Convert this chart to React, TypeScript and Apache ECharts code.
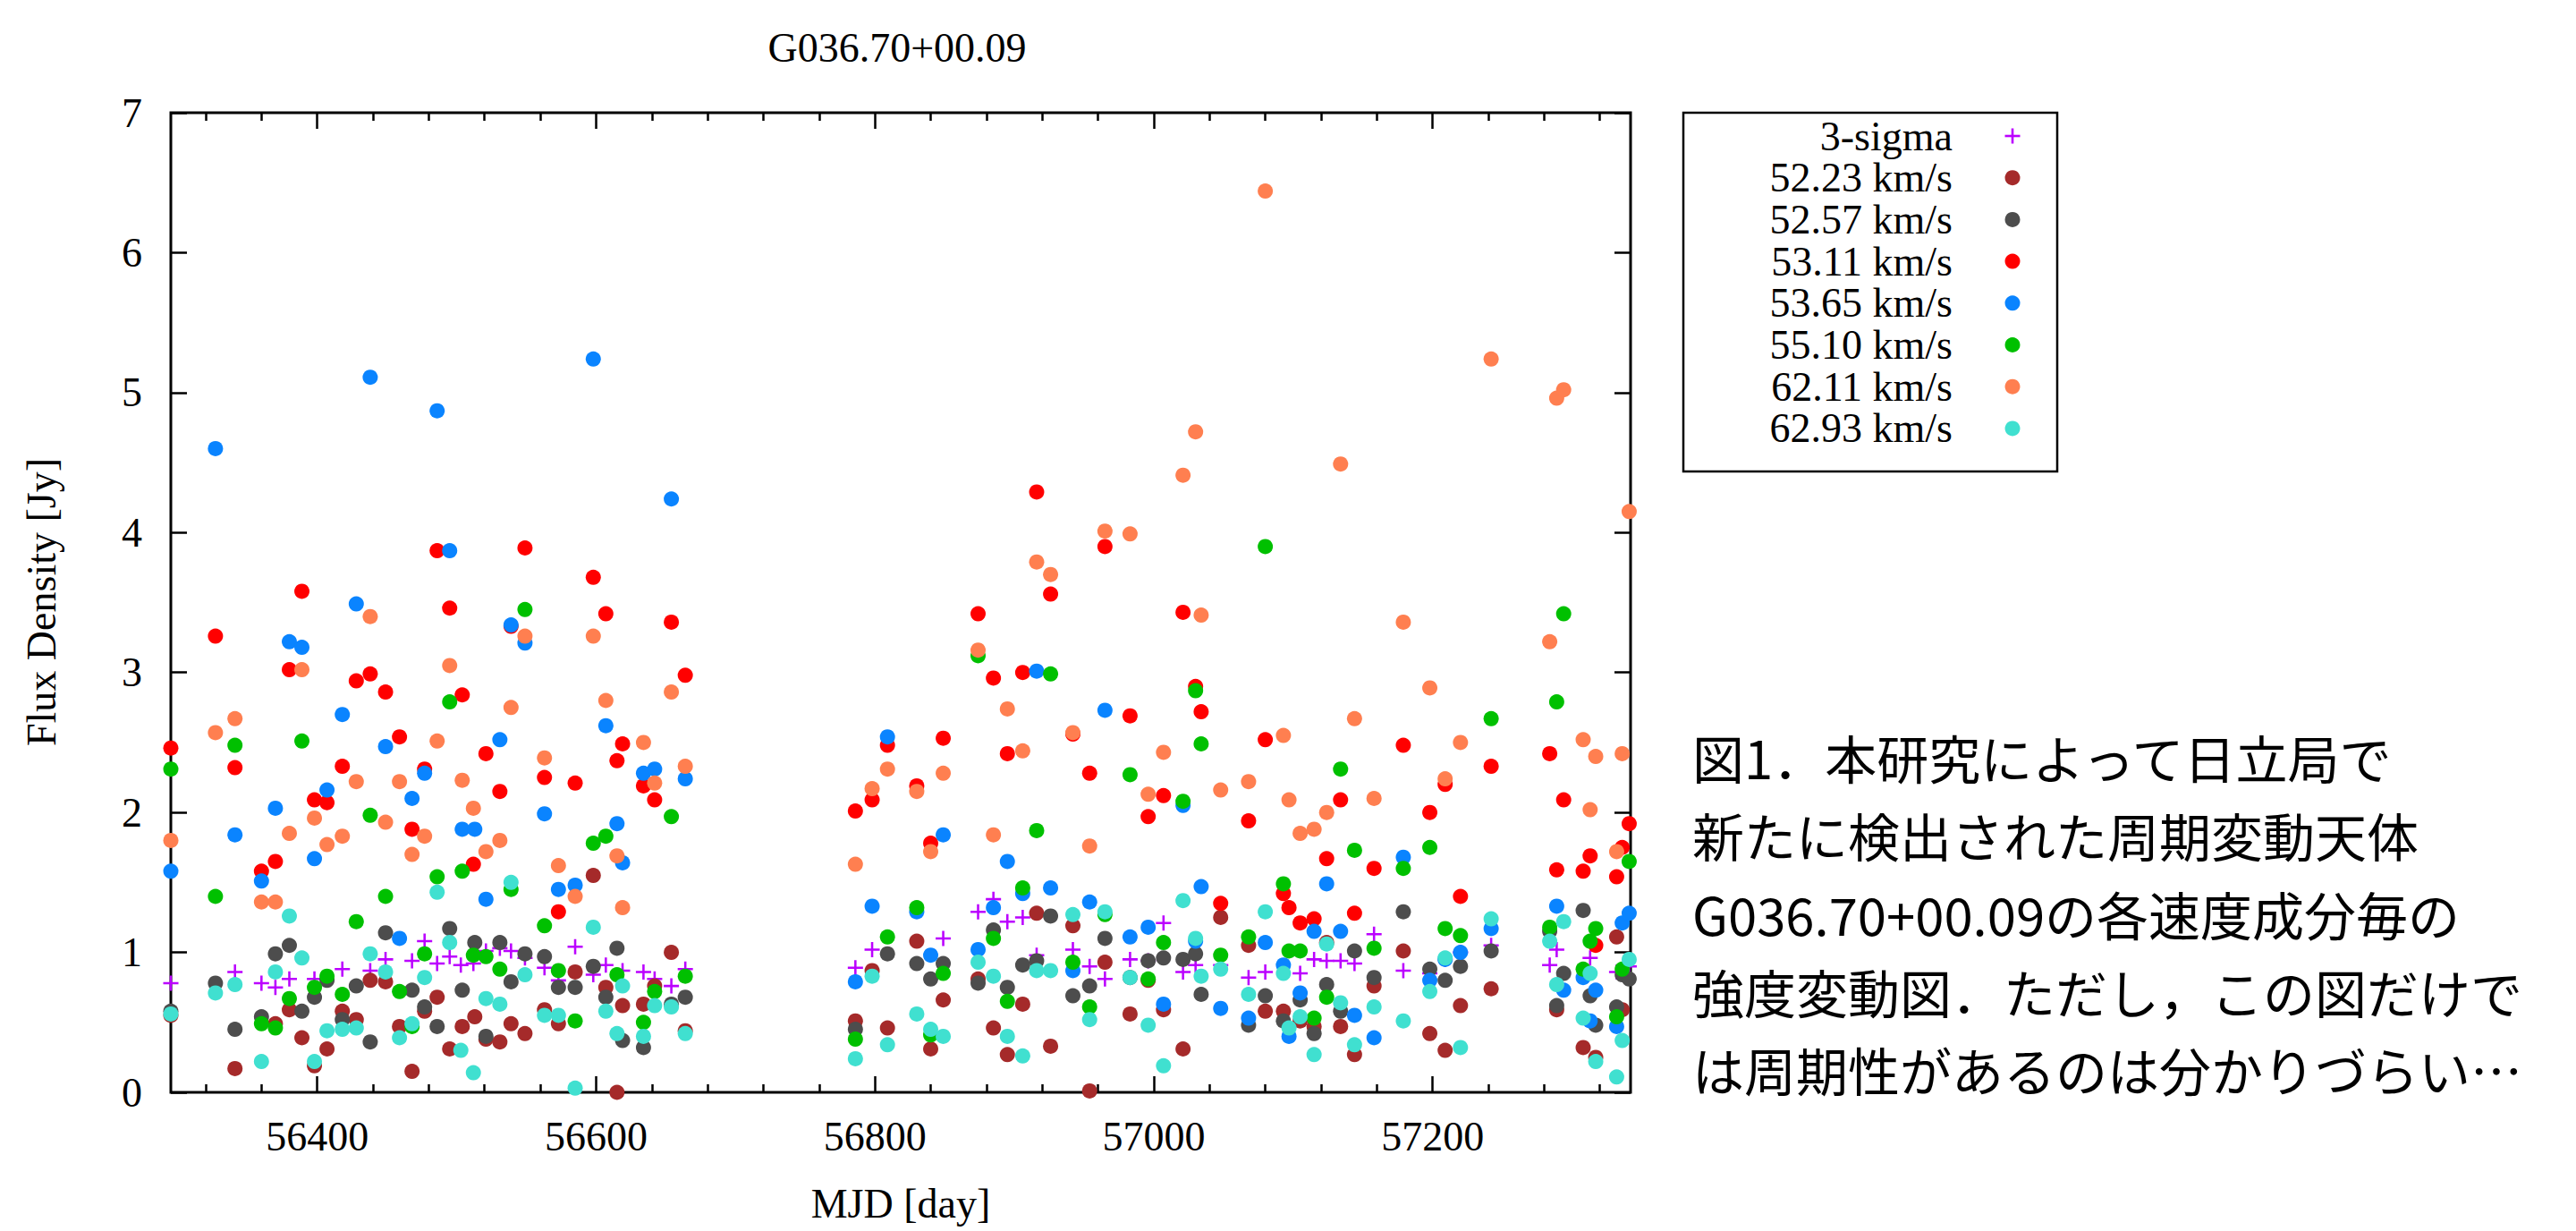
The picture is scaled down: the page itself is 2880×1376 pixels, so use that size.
import React, { useEffect, useRef } from "react";
import * as echarts from "echarts";

// ---------------- data (MJD day, flux density Jy) ----------------
const TITLE = "G036.70+00.09";
const X_NAME = "MJD [day]";
const Y_NAME = "Flux Density [Jy]";
const X_MAJOR = [56400, 56600, 56800, 57000, 57200];
const X_MINOR = [56320, 56360, 56440, 56480, 56520, 56560, 56640, 56680, 56720, 56760, 56840, 56880, 56920, 56960, 57040, 57080, 57120, 57160, 57240, 57280, 57320];
const Y_TICKS = [0, 1, 2, 3, 4, 5, 6, 7];
const SERIES_NAMES = ["3-sigma", "52.23 km/s", "52.57 km/s", "53.11 km/s", "53.65 km/s", "55.10 km/s", "62.11 km/s", "62.93 km/s"];
const CAPTION = [
  "図1．本研究によって日立局で",
  "新たに検出された周期変動天体",
  "G036.70+00.09の各速度成分毎の",
  "強度変動図．ただし，この図だけで",
  "は周期性があるのは分かりづらい…",
];

const sigma3: [number, number][] = [
  [56295, 0.78], [56341, 0.86], [56360, 0.78], [56370, 0.75], [56380, 0.81], [56398, 0.81], [56418, 0.88], [56438, 0.87],
  [56449, 0.95], [56468, 0.94], [56477, 1.08], [56486, 0.92], [56495, 0.97], [56503, 0.91], [56512, 0.92], [56521, 1.01],
  [56531, 1.03], [56539, 1.01], [56549, 0.96], [56563, 0.89], [56573, 0.8], [56585, 1.04], [56598, 0.84], [56607, 0.91],
  [56619, 0.87], [56634, 0.86], [56642, 0.81], [56654, 0.76], [56664, 0.88],
  [56786, 0.89], [56798, 1.02], [56849, 1.1], [56874, 1.29], [56885, 1.38], [56895, 1.22], [56906, 1.25], [56916, 0.98],
  [56942, 1.02], [56954, 0.9], [56965, 0.81], [56983, 0.95], [56996, 0.94], [57007, 1.21], [57021, 0.86], [57030, 0.91],
  [57048, 0.91], [57068, 0.82], [57080, 0.86], [57105, 0.85], [57115, 0.95], [57124, 0.94], [57134, 0.94], [57144, 0.92],
  [57158, 1.13], [57179, 0.87], [57198, 0.85], [57209, 0.95], [57220, 1.0], [57242, 1.05], [57284, 0.91], [57289, 1.02],
  [57313, 0.96], [57332, 0.86], [57341, 0.9],
];

const v5223: [number, number][] = [
  [56295, 0.55], [56341, 0.17], [56370, 0.49], [56380, 0.59], [56389, 0.39], [56398, 0.19], [56407, 0.31], [56418, 0.58],
  [56428, 0.52], [56438, 0.8], [56449, 0.79], [56459, 0.47], [56468, 0.15], [56477, 0.58], [56486, 0.68], [56495, 0.31],
  [56504, 0.47], [56513, 0.54], [56521, 0.38], [56531, 0.36], [56539, 0.49], [56549, 0.42], [56563, 0.59], [56573, 0.49],
  [56585, 0.86], [56598, 1.55], [56607, 0.75], [56615, 0.0], [56619, 0.62], [56634, 0.63], [56642, 0.76], [56654, 1.0],
  [56664, 0.44],
  [56786, 0.51], [56798, 0.87], [56809, 0.46], [56830, 1.08], [56840, 0.31], [56849, 0.66], [56874, 0.81], [56885, 0.46],
  [56895, 0.27], [56906, 0.63], [56916, 1.28], [56926, 0.33], [56942, 1.19], [56954, 0.01], [56965, 0.93], [56983, 0.56],
  [56996, 0.8], [57007, 0.59], [57021, 0.31], [57048, 1.25], [57068, 1.05], [57080, 0.58], [57093, 0.58], [57105, 0.51],
  [57115, 0.47], [57124, 1.07], [57134, 0.47], [57144, 0.27], [57158, 0.76], [57179, 1.01], [57198, 0.42], [57209, 0.3],
  [57220, 0.62], [57242, 0.74], [57289, 0.59], [57308, 0.32], [57317, 0.25], [57332, 1.11], [57336, 0.59],
];

const v5257: [number, number][] = [
  [56295, 0.58], [56327, 0.78], [56341, 0.45], [56360, 0.54], [56370, 0.99], [56380, 1.05], [56389, 0.58], [56398, 0.68],
  [56407, 0.8], [56418, 0.52], [56428, 0.76], [56438, 0.36], [56449, 1.14], [56468, 0.73], [56477, 0.61], [56486, 0.47],
  [56495, 1.17], [56504, 0.73], [56513, 1.07], [56521, 0.4], [56531, 1.07], [56539, 0.79], [56549, 0.99], [56563, 0.97],
  [56573, 0.75], [56585, 0.75], [56598, 0.9], [56607, 0.68], [56615, 1.03], [56619, 0.37], [56634, 0.32], [56654, 0.63],
  [56664, 0.68],
  [56786, 0.45], [56809, 0.99], [56830, 0.92], [56840, 0.81], [56849, 0.92], [56874, 0.78], [56885, 1.16], [56895, 0.75],
  [56906, 0.91], [56916, 0.94], [56926, 1.26], [56942, 0.69], [56954, 0.76], [56965, 1.1], [56983, 0.82], [56996, 0.94],
  [57007, 0.96], [57021, 0.95], [57030, 0.99], [57034, 0.7], [57068, 0.48], [57080, 0.69], [57093, 0.51], [57105, 0.66],
  [57115, 0.42], [57124, 0.77], [57134, 0.58], [57144, 1.01], [57158, 0.82], [57179, 1.29], [57198, 0.88], [57209, 0.8],
  [57220, 0.9], [57242, 1.01], [57284, 1.15], [57289, 0.62], [57294, 0.85], [57308, 1.3], [57313, 0.69], [57317, 0.48],
  [57332, 0.61], [57336, 0.84], [57341, 0.81],
];

const v5311: [number, number][] = [
  [56295, 2.46], [56327, 3.26], [56341, 2.32], [56360, 1.58], [56370, 1.65], [56380, 3.02], [56389, 3.58], [56398, 2.09],
  [56407, 2.07], [56418, 2.33], [56428, 2.94], [56438, 2.99], [56449, 2.86], [56459, 2.54], [56468, 1.88], [56477, 2.31],
  [56486, 3.87], [56495, 3.46], [56504, 2.84], [56512, 1.63], [56521, 2.42], [56531, 2.15], [56539, 3.33], [56549, 3.89],
  [56563, 2.25], [56573, 1.29], [56585, 2.21], [56598, 3.68], [56607, 3.42], [56615, 2.37], [56619, 2.49], [56634, 2.19],
  [56642, 2.09], [56654, 3.36], [56664, 2.98],
  [56786, 2.01], [56798, 2.09], [56809, 2.48], [56830, 2.19], [56840, 1.78], [56849, 2.53], [56874, 3.42], [56885, 2.96],
  [56895, 2.42], [56906, 3.0], [56916, 4.29], [56926, 3.56], [56942, 2.56], [56954, 2.28], [56965, 3.9], [56983, 2.69],
  [56996, 1.97], [57007, 2.12], [57021, 3.43], [57030, 2.9], [57034, 2.72], [57048, 1.35], [57068, 1.94], [57080, 2.52],
  [57093, 1.42], [57097, 1.32], [57105, 1.21], [57115, 1.24], [57124, 1.67], [57134, 2.09], [57144, 1.28], [57158, 1.6],
  [57179, 2.48], [57198, 2.0], [57209, 2.2], [57220, 1.4], [57242, 2.33], [57284, 2.42], [57289, 1.59], [57294, 2.09],
  [57308, 1.58], [57313, 1.69], [57317, 1.05], [57332, 1.54], [57336, 1.75], [57341, 1.92],
];

const v5365: [number, number][] = [
  [56295, 1.58], [56327, 4.6], [56341, 1.84], [56360, 1.51], [56370, 2.03], [56380, 3.22], [56389, 3.18], [56398, 1.67],
  [56407, 2.16], [56418, 2.7], [56428, 3.49], [56438, 5.11], [56449, 2.47], [56459, 1.1], [56468, 2.1], [56477, 2.28],
  [56486, 4.87], [56495, 3.87], [56504, 1.88], [56513, 1.88], [56521, 1.38], [56531, 2.52], [56539, 3.34], [56549, 3.21],
  [56563, 1.99], [56573, 1.45], [56585, 1.48], [56598, 5.24], [56607, 2.62], [56615, 1.92], [56619, 1.64], [56634, 2.28],
  [56642, 2.31], [56654, 4.24], [56664, 2.24],
  [56786, 0.79], [56798, 1.33], [56809, 2.54], [56830, 1.29], [56840, 0.98], [56849, 1.84], [56874, 1.02], [56885, 1.32],
  [56895, 1.65], [56906, 1.42], [56916, 3.01], [56926, 1.46], [56942, 0.87], [56954, 1.36], [56965, 2.73], [56983, 1.11],
  [56996, 1.18], [57007, 0.63], [57021, 2.05], [57030, 1.08], [57034, 1.47], [57048, 0.6], [57068, 0.53], [57080, 1.07],
  [57093, 0.91], [57097, 0.4], [57105, 0.71], [57115, 1.15], [57124, 1.49], [57134, 1.15], [57144, 0.55], [57158, 0.39],
  [57179, 1.68], [57198, 0.8], [57209, 0.95], [57220, 1.0], [57242, 1.17], [57289, 1.33], [57294, 0.73], [57308, 0.82],
  [57313, 0.51], [57317, 0.73], [57332, 0.47], [57336, 1.21], [57341, 1.28],
];

const v5510: [number, number][] = [
  [56295, 2.31], [56327, 1.4], [56341, 2.48], [56360, 0.49], [56370, 0.46], [56380, 0.67], [56389, 2.51], [56398, 0.75],
  [56407, 0.83], [56418, 0.7], [56428, 1.22], [56438, 1.98], [56449, 1.4], [56459, 0.72], [56468, 0.47], [56477, 0.99],
  [56486, 1.54], [56495, 2.79], [56504, 1.58], [56512, 0.98], [56521, 0.97], [56531, 0.88], [56539, 1.45], [56549, 3.45],
  [56563, 1.19], [56573, 0.87], [56585, 0.51], [56598, 1.78], [56607, 1.83], [56615, 0.84], [56634, 0.5], [56642, 0.72],
  [56654, 1.97], [56664, 0.83],
  [56786, 0.38], [56809, 1.11], [56830, 1.32], [56840, 0.41], [56849, 0.85], [56874, 3.12], [56885, 1.1], [56895, 0.65],
  [56906, 1.46], [56916, 1.87], [56926, 2.99], [56942, 0.93], [56954, 0.61], [56965, 1.27], [56983, 2.27], [56996, 0.81],
  [57007, 1.07], [57021, 2.08], [57030, 2.87], [57034, 2.49], [57048, 0.98], [57068, 1.11], [57080, 3.9], [57093, 1.49],
  [57097, 1.01], [57105, 1.01], [57115, 0.53], [57124, 0.68], [57134, 2.31], [57144, 1.73], [57158, 1.03], [57179, 1.6],
  [57198, 1.75], [57209, 1.17], [57220, 1.12], [57242, 2.67], [57284, 1.18], [57289, 2.79], [57294, 3.42], [57308, 0.88],
  [57313, 1.08], [57317, 1.17], [57332, 0.54], [57336, 0.88], [57341, 1.65],
];

const v6211: [number, number][] = [
  [56295, 1.8], [56327, 2.57], [56341, 2.67], [56360, 1.36], [56370, 1.36], [56380, 1.85], [56389, 3.02], [56398, 1.96],
  [56407, 1.77], [56418, 1.83], [56428, 2.22], [56438, 3.4], [56449, 1.93], [56459, 2.22], [56468, 1.7], [56477, 1.83],
  [56486, 2.51], [56495, 3.05], [56504, 2.23], [56512, 2.03], [56521, 1.72], [56531, 1.8], [56539, 2.75], [56549, 3.26],
  [56563, 2.39], [56573, 1.62], [56585, 1.4], [56598, 3.26], [56607, 2.8], [56615, 1.69], [56619, 1.32], [56634, 2.5],
  [56642, 2.21], [56654, 2.86], [56664, 2.33],
  [56786, 1.63], [56798, 2.17], [56809, 2.31], [56830, 2.15], [56840, 1.72], [56849, 2.28], [56874, 3.16], [56885, 1.84],
  [56895, 2.74], [56906, 2.44], [56916, 3.79], [56926, 3.7], [56942, 2.57], [56954, 1.76], [56965, 4.01], [56983, 3.99],
  [56996, 2.13], [57007, 2.43], [57021, 4.41], [57030, 4.72], [57034, 3.41], [57048, 2.16], [57068, 2.22], [57080, 6.44],
  [57093, 2.55], [57097, 2.09], [57105, 1.85], [57115, 1.88], [57124, 2.0], [57134, 4.49], [57144, 2.67], [57158, 2.1],
  [57179, 3.36], [57198, 2.89], [57209, 2.24], [57220, 2.5], [57242, 5.24], [57284, 3.22], [57289, 4.96], [57294, 5.02],
  [57308, 2.52], [57313, 2.02], [57317, 2.4], [57332, 1.72], [57336, 2.42], [57341, 4.15],
];

const v6293: [number, number][] = [
  [56295, 0.56], [56327, 0.71], [56341, 0.77], [56360, 0.22], [56370, 0.86], [56380, 1.26], [56389, 0.96], [56398, 0.22],
  [56407, 0.44], [56418, 0.45], [56428, 0.46], [56438, 0.99], [56449, 0.86], [56459, 0.39], [56468, 0.49], [56477, 0.82],
  [56486, 1.43], [56495, 1.07], [56503, 0.3], [56512, 0.14], [56521, 0.67], [56531, 0.63], [56539, 1.5], [56549, 0.84],
  [56563, 0.55], [56573, 0.55], [56585, 0.03], [56598, 1.18], [56607, 0.58], [56615, 0.42], [56619, 0.76], [56634, 0.4],
  [56642, 0.62], [56654, 0.61], [56664, 0.42],
  [56786, 0.24], [56798, 0.83], [56809, 0.34], [56830, 0.56], [56840, 0.45], [56849, 0.4], [56874, 0.93], [56885, 0.83],
  [56895, 0.4], [56906, 0.26], [56916, 0.87], [56926, 0.87], [56942, 1.27], [56954, 0.52], [56965, 1.29], [56983, 0.82],
  [56996, 0.48], [57007, 0.19], [57021, 1.37], [57030, 1.1], [57034, 0.83], [57048, 0.88], [57068, 0.7], [57080, 1.29],
  [57093, 0.85], [57097, 0.46], [57105, 0.54], [57115, 0.27], [57124, 1.06], [57134, 0.64], [57144, 0.34], [57158, 0.61],
  [57179, 0.51], [57198, 0.72], [57209, 0.96], [57220, 0.32], [57242, 1.24], [57284, 1.08], [57289, 0.77], [57294, 1.22],
  [57308, 0.53], [57313, 0.85], [57317, 0.22], [57332, 0.11], [57336, 0.37], [57341, 0.95],
];

const SERIES_DATA = [sigma3, v5223, v5257, v5311, v5365, v5510, v6211, v6293];
const COLORS = ["#bb00ff", "#a52a2a", "#4d4d4d", "#ff0000", "#0a84ff", "#00c000", "#ff7f50", "#40e0d0"];

// ---------------- layout ----------------
const W = 2880;
const H = 1376;
const G_LEFT = 191;
const G_TOP = 126;
const G_RIGHT = 1823;
const G_BOTTOM = 1221;
const SERIF = "'Liberation Serif', 'Times New Roman', serif";
const FS = 46;
const PLUS = "path://M-1,-0.15H1V0.15H-1ZM-0.15,-1H0.15V1H-0.15Z";

const LEG_X0 = 1882;
const LEG_X1 = 2300;
const LEG_Y0 = 126;
const LEG_Y1 = 527;
const LEG_TEXT_X = 2183;
const LEG_MARK_X = 2250;
const LEG_ROW0 = 152;
const LEG_ROW_STEP = 46.7;

function buildOption() {
  const xMin = 56295;
  const xMax = 57342;
  const tickStyle = { color: "#000", width: 2.5 };
  const mkX = (pos: "bottom" | "top", vals: number[], len: number, labels: boolean) => ({
    type: "value",
    position: pos,
    min: xMin,
    max: xMax,
    axisLine: { show: false },
    splitLine: { show: false },
    axisTick: { show: true, inside: true, length: len, customValues: vals, lineStyle: tickStyle },
    axisLabel: labels
      ? {
          show: true,
          customValues: vals,
          formatter: (v: number) => String(Math.round(v)),
          fontFamily: SERIF,
          fontSize: FS,
          color: "#000",
          margin: 26,
        }
      : { show: false },
  });
  const mkY = (pos: "left" | "right", labels: boolean) => ({
    type: "value",
    position: pos,
    min: 0,
    max: 7,
    interval: 1,
    axisLine: { show: false },
    splitLine: { show: false },
    axisTick: { show: true, inside: true, length: 18, customValues: Y_TICKS, lineStyle: tickStyle },
    axisLabel: labels
      ? { show: true, customValues: Y_TICKS, fontFamily: SERIF, fontSize: FS, color: "#000", margin: 32 }
      : { show: false },
  });

  const series = SERIES_NAMES.map((name, i) => ({
    type: "scatter",
    name,
    data: SERIES_DATA[i],
    xAxisIndex: 0,
    yAxisIndex: 0,
    symbol: i === 0 ? PLUS : "circle",
    symbolSize: 17,
    clip: true,
    itemStyle: { color: COLORS[i], opacity: 1 },
    emphasis: { disabled: true },
    z: 2 + i,
  }));

  const graphics: any[] = [];
  graphics.push({
    type: "text",
    x: 1003,
    y: 53,
    style: { text: TITLE, font: `${FS}px ${SERIF}`, fill: "#000", textAlign: "center", textVerticalAlign: "middle" },
  });
  graphics.push({
    type: "text",
    x: 1007,
    y: 1345,
    style: { text: X_NAME, font: `${FS}px ${SERIF}`, fill: "#000", textAlign: "center", textVerticalAlign: "middle" },
  });
  graphics.push({
    type: "text",
    x: 46,
    y: 673,
    rotation: Math.PI / 2,
    style: { text: Y_NAME, font: `${FS}px ${SERIF}`, fill: "#000", textAlign: "center", textVerticalAlign: "middle" },
  });
  // legend box
  graphics.push({
    type: "rect",
    shape: { x: LEG_X0, y: LEG_Y0, width: LEG_X1 - LEG_X0, height: LEG_Y1 - LEG_Y0 },
    style: { fill: "none", stroke: "#000", lineWidth: 2.5 },
  });
  SERIES_NAMES.forEach((name, i) => {
    const cy = LEG_ROW0 + LEG_ROW_STEP * i;
    graphics.push({
      type: "text",
      x: LEG_TEXT_X,
      y: cy,
      style: { text: name, font: `${FS}px ${SERIF}`, fill: "#000", textAlign: "right", textVerticalAlign: "middle" },
    });
    if (i === 0) {
      graphics.push({ type: "rect", shape: { x: LEG_MARK_X - 8.5, y: cy - 1.3, width: 17, height: 2.6 }, style: { fill: COLORS[0] } });
      graphics.push({ type: "rect", shape: { x: LEG_MARK_X - 1.3, y: cy - 8.5, width: 2.6, height: 17 }, style: { fill: COLORS[0] } });
    } else {
      graphics.push({ type: "circle", shape: { cx: LEG_MARK_X, cy, r: 8.5 }, style: { fill: COLORS[i] } });
    }
  });
  // caption
  const capY = [846, 933, 1021, 1108, 1195];
  CAPTION.forEach((line, i) => {
    graphics.push({
      type: "text",
      x: 1892,
      y: capY[i],
      style: { text: line, font: `58px 'Noto Sans CJK JP', sans-serif`, fill: "#000", textAlign: "left", textVerticalAlign: "middle" },
    });
  });

  return {
    animation: false,
    backgroundColor: "#ffffff",
    grid: {
      left: G_LEFT,
      top: G_TOP,
      width: G_RIGHT - G_LEFT,
      height: G_BOTTOM - G_TOP,
      show: true,
      borderColor: "#000",
      borderWidth: 3,
      backgroundColor: "transparent",
      containLabel: false,
    },
    xAxis: [
      mkX("bottom", X_MAJOR, 18, true),
      mkX("bottom", X_MINOR, 9, false),
      mkX("top", X_MAJOR, 18, false),
      mkX("top", X_MINOR, 9, false),
    ],
    yAxis: [mkY("left", true), mkY("right", false)],
    series,
    graphic: graphics,
  };
}

export default function App() {
  const ref = useRef<HTMLDivElement>(null);
  useEffect(() => {
    document.body.style.margin = "0";
    const chart = echarts.init(ref.current as HTMLDivElement, null, { renderer: "svg" });
    chart.setOption(buildOption() as any);
    return () => chart.dispose();
  }, []);
  return <div ref={ref} style={{ width: W, height: H, background: "#fff" }} />;
}
